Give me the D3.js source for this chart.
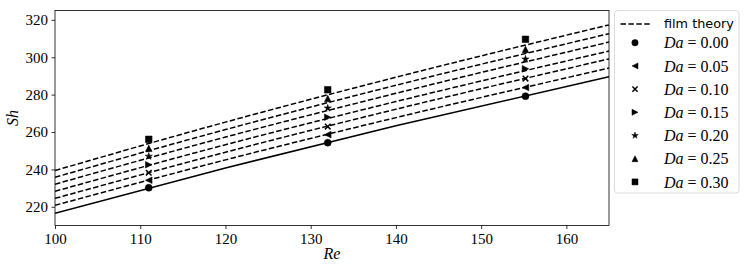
<!DOCTYPE html>
<html><head><meta charset="utf-8">
<script src="https://cdn.jsdelivr.net/npm/d3@7"></script>
<style>body{margin:0;background:#fff;} svg{display:block;}</style>
</head><body><svg id="c" width="748" height="272"></svg>
<script>
// ---- data ----
const daLabels = ["0.00","0.05","0.10","0.15","0.20","0.25","0.30"];
const markerTypes = ["circle","triangle-left","x","triangle-right","star","triangle-up","square"];
const reSim = [111, 132, 155.2];
const shSim = [
  [230.2, 254.3, 279.2],
  [234.2, 258.6, 283.8],
  [238.2, 262.9, 288.6],
  [242.5, 267.9, 293.8],
  [247.0, 272.8, 299.0],
  [251.3, 277.9, 304.2],
  [256.1, 282.6, 309.6]
];
const reTheory = [100, 120, 140, 165];
const shTheory = [
  [216.6, 240.8, 263.3, 289.6],
  [220.8, 245.1, 267.7, 294.2],
  [224.5, 249.2, 272.2, 299.1],
  [228.3, 253.2, 276.3, 303.3],
  [232.1, 257.3, 280.7, 308.1],
  [235.8, 261.3, 285.0, 312.6],
  [239.4, 265.3, 289.3, 317.3]
];
const xTicks = [100,110,120,130,140,150,160];
const yTicks = [220,240,260,280,300,320];
const xDomain = [100,165];
const yDomain = [210,325];

// ---- layout ----
const SERIF = '"Liberation Serif", serif';
const svg = d3.select("#c");
const L = 55, R = 609, T = 10.5, B = 225.5;
const x = d3.scaleLinear().domain(xDomain).range([L,R]);
const y = d3.scaleLinear().domain(yDomain).range([B,T]);

function markerPath(type, s){
  switch(type){
    case "circle": return d3.symbol(d3.symbolCircle, Math.PI*s*s)();
    case "square": return `M${-s},${-s}H${s}V${s}H${-s}Z`;
    case "triangle-up": return `M0,${-s}L${s},${s}L${-s},${s}Z`;
    case "triangle-left": return `M${-s},0L${s},${-s}L${s},${s}Z`;
    case "triangle-right": return `M${s},0L${-s},${-s}L${-s},${s}Z`;
    case "star": {
      const ro = s*1.15, ri = ro*0.382; let p = "";
      for(let i=0;i<10;i++){const r=i%2?ri:ro; const a=-Math.PI/2+i*Math.PI/5;
        p += (i?"L":"M")+(r*Math.cos(a)).toFixed(2)+","+(r*Math.sin(a)).toFixed(2);}
      return p+"Z";
    }
    case "x": return `M${-s},${-s}L${s},${s}M${-s},${s}L${s},${-s}`;
  }
}

svg.append("defs").append("clipPath").attr("id","pc")
  .append("rect").attr("x",L).attr("y",T).attr("width",R-L).attr("height",B-T);

// theory lines
const line = d3.line().x(d=>x(d[0])).y(d=>y(d[1])).curve(d3.curveMonotoneX);
const gl = svg.append("g").attr("clip-path","url(#pc)");
shTheory.forEach((row,i)=>{
  gl.append("path").datum(reTheory.map((r,j)=>[r,row[j]]))
    .attr("d",line).attr("fill","none").attr("stroke","#000").attr("stroke-width",1.5)
    .attr("stroke-dasharray", i===0 ? null : "5.5,2.4");
});

// markers
shSim.forEach((row,i)=>{
  const t = markerTypes[i];
  svg.append("g").selectAll("path").data(reSim.map((r,j)=>[r,row[j]])).join("path")
    .attr("transform",d=>`translate(${x(d[0])},${y(d[1])})`)
    .attr("d",markerPath(t, t==="circle"?3.5:(t==="x"?2.8:3.3)))
    .attr("fill", t==="x"?"none":"#000").attr("stroke","#000")
    .attr("stroke-width", t==="x"?1.5:0.5);
});

// frame
svg.append("rect").attr("x",L).attr("y",T).attr("width",R-L).attr("height",B-T)
  .attr("fill","none").attr("stroke","#000").attr("stroke-width",0.8);

// axes
const xa = svg.append("g").attr("transform",`translate(0,${B})`)
  .call(d3.axisBottom(x).tickValues(xTicks).tickSize(3.5).tickPadding(3.5));
const ya = svg.append("g").attr("transform",`translate(${L},0)`)
  .call(d3.axisLeft(y).tickValues(yTicks).tickSize(3.5).tickPadding(3.5));
[xa,ya].forEach(g=>{
  g.attr("font-family",null).attr("font-size",null);
  g.select(".domain").remove();
  g.selectAll(".tick line").attr("stroke","#000").attr("stroke-width",0.8);
  g.selectAll(".tick text").attr("fill","#000").style("font-family",SERIF).style("font-size","15px");
});
xa.selectAll(".tick text").attr("dy","0.78em");

svg.append("text").attr("x",(L+R)/2).attr("y",259).attr("text-anchor","middle")
  .style("font-family",SERIF).style("font-size","16px").style("font-style","italic").text("Re");
svg.append("text").attr("transform",`translate(18,${(T+B)/2}) rotate(-90)`).attr("text-anchor","middle")
  .style("font-family",SERIF).style("font-size","16px").style("font-style","italic").text("Sh");

// legend
const lg = svg.append("g");
lg.append("rect").attr("x",614.5).attr("y",10.5).attr("width",124.5).attr("height",182.5)
  .attr("rx",3).attr("fill","#fff").attr("fill-opacity",0.8).attr("stroke","#d0d0d0").attr("stroke-width",0.8);
lg.append("line").attr("x1",620.5).attr("x2",650.5).attr("y1",24).attr("y2",24)
  .attr("stroke","#000").attr("stroke-width",1.5).attr("stroke-dasharray","5.5,2.4");
lg.append("text").attr("x",664).attr("y",24).attr("dy","0.35em")
  .style("font-family",'"DejaVu Sans", sans-serif').style("font-size","12.8px").text("film theory");
const rowY = d3.scaleLinear().domain([0,6]).range([42.7,181.9]);
daLabels.forEach((lab,i)=>{
  const t = markerTypes[i];
  lg.append("path").attr("transform",`translate(635,${rowY(i)})`)
    .attr("d",markerPath(t, t==="circle"?3.2:(t==="x"?2.6:3)))
    .attr("fill", t==="x"?"none":"#000").attr("stroke","#000").attr("stroke-width", t==="x"?1.5:0.5);
  const tx = lg.append("text").attr("x",664).attr("y",rowY(i)).attr("dy","0.35em")
    .style("font-family",SERIF).style("font-size","16px");
  tx.append("tspan").style("font-style","italic").text("Da");
  tx.append("tspan").attr("dx",4).text("=");
  tx.append("tspan").attr("dx",4).text(lab);
});
</script></body></html>
